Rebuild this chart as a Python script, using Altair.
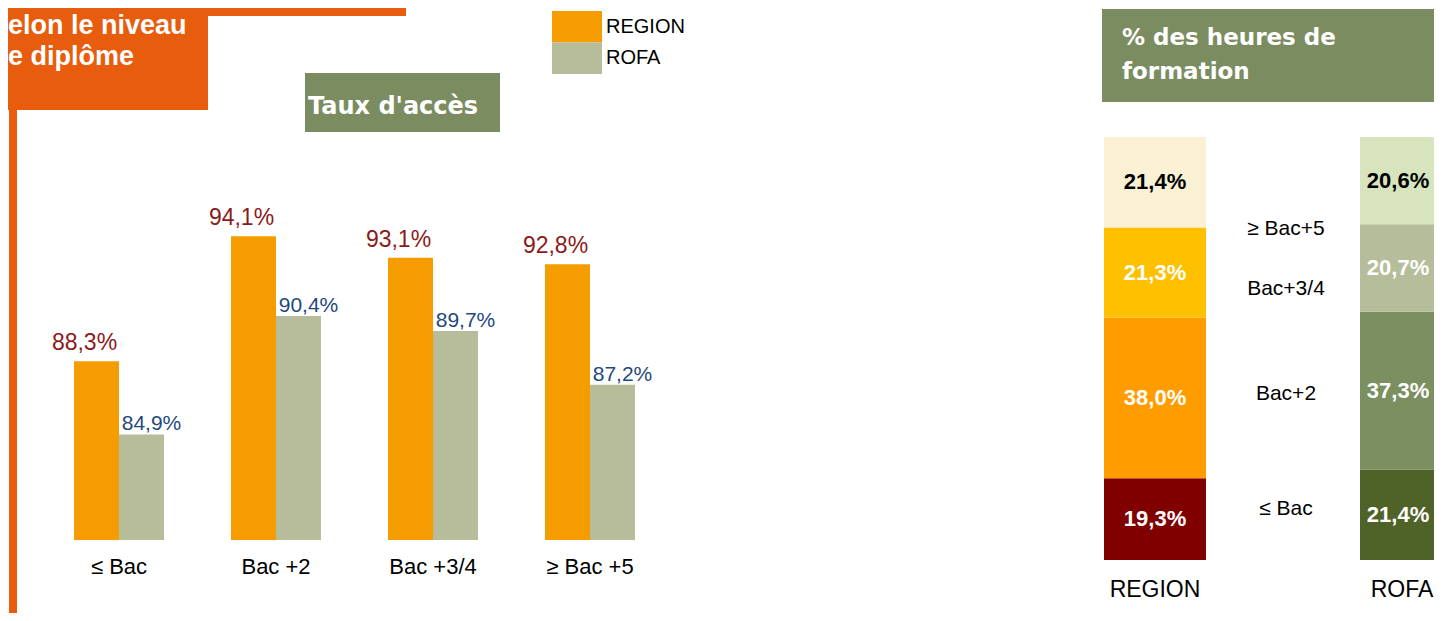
import altair as alt
import pandas as pd

# ---------------- data ----------------
levels = ["≤ Bac", "Bac +2", "Bac +3/4", "≥ Bac +5"]
series = ["REGION", "ROFA"]
region_access = [88.3, 94.1, 93.1, 92.8]
rofa_access = [84.9, 90.4, 89.7, 87.2]

sources = ["REGION", "ROFA"]
hour_levels = ["≤ Bac", "Bac+2", "Bac+3/4", "≥ Bac+5"]
region_hours = [19.3, 38.0, 21.3, 21.4]
rofa_hours = [21.4, 37.3, 20.7, 20.6]

series_colors = ["#F59C00", "#B7BD9B"]
region_colors = ["#800000", "#FF9D00", "#FFC000", "#FAF0D4"]
rofa_colors = ["#4F6228", "#7C8F61", "#B6BD9A", "#D8E4BD"]

title_lines = ["elon le niveau", "e diplôme"]
header_left = "Taux d'accès"
header_right = ["% des heures de", "formation"]

FONT = "Liberation Sans"
HFONT = "DejaVu Sans"
ORANGE = "#E85C0E"
GREEN = "#7B8D60"


def fr(v):
    return f"{v:.1f}".replace(".", ",") + "%"


access_df = pd.DataFrame(
    [
        {"level": l, "series": s, "value": v, "label": fr(v)}
        for s, vals in zip(series, [region_access, rofa_access])
        for l, v in zip(levels, vals)
    ]
)

hours_rows = []
keys, key_colors = [], []
for s, vals, cols in zip(sources, [region_hours, rofa_hours], [region_colors, rofa_colors]):
    for i, (l, v, c) in enumerate(zip(hour_levels, vals, cols)):
        k = s + " " + l
        hours_rows.append({"source": s, "level": l, "order": i, "key": k, "value": v, "label": fr(v)})
        keys.append(k)
        key_colors.append(c)
hours_df = pd.DataFrame(hours_rows)

one = pd.DataFrame({"k": [0]})


def rect(x, x2, y, y2, color):
    return alt.Chart(one).mark_rect(color=color).encode(
        x=alt.value(x), x2=alt.value(x2), y=alt.value(y), y2=alt.value(y2)
    )


def label(x, y, text, size, color, font, weight="normal", align="left", baseline="alphabetic"):
    return alt.Chart(one).mark_text(
        fontSize=size, color=color, font=font, fontWeight=weight, align=align, baseline=baseline
    ).encode(x=alt.value(x), y=alt.value(y), text=alt.value(text))


# ---------------- decorations ----------------
decos = [
    rect(-8, 200, -8, 102, ORANGE),
    rect(200, 398, 0, 8, ORANGE),
    rect(1, 9, 102, 620, ORANGE),
    label(0, 26, title_lines[0], 27, "white", FONT, "bold"),
    label(0, 57, title_lines[1], 27, "white", FONT, "bold"),
    rect(297, 492, 65, 124, GREEN),
    label(300, 106, header_left, 24, "white", HFONT, "bold"),
    rect(1094, 1440, 1, 94, GREEN),
    label(1114, 37, header_right[0], 23, "white", HFONT, "bold"),
    label(1114, 71, header_right[1], 23, "white", HFONT, "bold"),
]

# ---------------- left grouped bars ----------------
x_left = alt.X(
    "level:N",
    sort=levels,
    scale=alt.Scale(domain=levels, range=[32.5, 660.5], paddingInner=0.427, paddingOuter=0.2135),
    axis=alt.Axis(
        orient="bottom", offset=-73, domain=False, ticks=False, tickSize=0, labelPadding=16,
        labelFontSize=22, labelFont=FONT, labelColor="black", labelAngle=0, title=None, grid=False,
    ),
)
xo_left = alt.XOffset("series:N", sort=series, scale=alt.Scale(domain=series, paddingInner=0, paddingOuter=0))
y_left = alt.Y("value:Q", scale=alt.Scale(domain=[80, 100], range=[532, 101], nice=False, zero=False), axis=None)

base_left = alt.Chart(access_df)
bars_left = base_left.mark_bar().encode(
    x=x_left,
    xOffset=xo_left,
    y=y_left,
    y2=alt.datum(80),
    color=alt.Color("series:N", scale=alt.Scale(domain=series, range=series_colors), legend=None),
)
txt_region = base_left.transform_filter(alt.datum.series == "REGION").mark_text(
    dx=-12, dy=-11, baseline="alphabetic", fontSize=23, color="#8B1A1A", font=FONT
).encode(x=x_left, xOffset=xo_left, y=y_left, text="label:N")
txt_rofa = base_left.transform_filter(alt.datum.series == "ROFA").mark_text(
    dx=10, dy=-4, baseline="alphabetic", fontSize=21, color="#1F497D", font=FONT
).encode(x=x_left, xOffset=xo_left, y=y_left, text="label:N")
left = alt.layer(bars_left, txt_region, txt_rofa)

# ---------------- legend ----------------
leg_df = pd.DataFrame({"series": series})
y_leg = alt.Y("series:N", sort=series, scale=alt.Scale(domain=series, range=[3, 66], paddingInner=0, paddingOuter=0), axis=None)
leg_rect = alt.Chart(leg_df).mark_rect().encode(
    x=alt.value(544), x2=alt.value(594), y=y_leg,
    color=alt.Color("series:N", scale=alt.Scale(domain=series, range=series_colors), legend=None),
)
leg_txt = alt.Chart(leg_df).mark_text(align="left", baseline="middle", fontSize=20, font=FONT, color="black").encode(
    x=alt.value(598), y=y_leg, text="series:N"
)
legend = alt.layer(leg_rect, leg_txt)

# ---------------- right stacked bars ----------------
x_right = alt.X(
    "source:N",
    sort=sources,
    scale=alt.Scale(domain=sources, range=[1096, 1454], paddingInner=0.6016, paddingOuter=0),
    axis=alt.Axis(
        orient="bottom", offset=-53, domain=False, ticks=False, tickSize=0, labelPadding=18,
        labelFontSize=23, labelFont=FONT, labelColor="black", labelAngle=0, title=None, grid=False,
        labelOffset={"condition": {"test": "datum.value == 'ROFA'", "value": -9}, "value": 0},
    ),
)
y_scale_right = alt.Scale(domain=[0, 100], range=[552, 129], nice=False)
base_right = alt.Chart(hours_df)
stack_bars = base_right.mark_bar().encode(
    x=x_right,
    y=alt.Y("value:Q", stack="zero", scale=y_scale_right, axis=None),
    color=alt.Color("key:N", scale=alt.Scale(domain=keys, range=key_colors), legend=None),
    order=alt.Order("order:Q"),
)
stacked = base_right.transform_stack(
    stack="value", as_=["y0", "y1"], groupby=["source"], sort=[alt.SortField("order", order="ascending")]
).transform_calculate(mid="(datum.y0 + datum.y1) / 2")

seg_color = alt.condition(alt.datum.level == "≥ Bac+5", alt.value("black"), alt.value("white"))
seg_region = stacked.transform_filter(alt.datum.source == "REGION").mark_text(
    fontSize=22, fontWeight="bold", font=FONT, baseline="middle"
).encode(x=x_right, y=alt.Y("mid:Q", scale=y_scale_right, axis=None), text="label:N", color=seg_color)
seg_rofa = stacked.transform_filter(alt.datum.source == "ROFA").mark_text(
    fontSize=22, fontWeight="bold", font=FONT, baseline="middle", dx=-13
).encode(x=x_right, y=alt.Y("mid:Q", scale=y_scale_right, axis=None), text="label:N", color=seg_color)

mid_labels = stacked.transform_aggregate(mid="mean(mid)", groupby=["level"])
mid_dy = {"≤ Bac": -7.5, "Bac+2": 0, "Bac+3/4": 19, "≥ Bac+5": 48}
mid_layers = [
    mid_labels.transform_filter(alt.datum.level == lv).mark_text(
        fontSize=21, font=FONT, color="black", baseline="middle", align="center", dy=mid_dy[lv]
    ).encode(x=alt.value(1278), y=alt.Y("mid:Q", scale=y_scale_right, axis=None), text="level:N")
    for lv in hour_levels
]

right = alt.layer(stack_bars, seg_region, seg_rofa, *mid_layers)

chart = (
    alt.layer(*decos, left, legend, right)
    .resolve_scale(x="independent", y="independent", color="independent")
    .properties(width=1426, height=605, padding=0, autosize="none", background="white")
    .configure_view(stroke=None)
)

chart.save("out.html", embed_options={"renderer": "svg", "actions": False})
